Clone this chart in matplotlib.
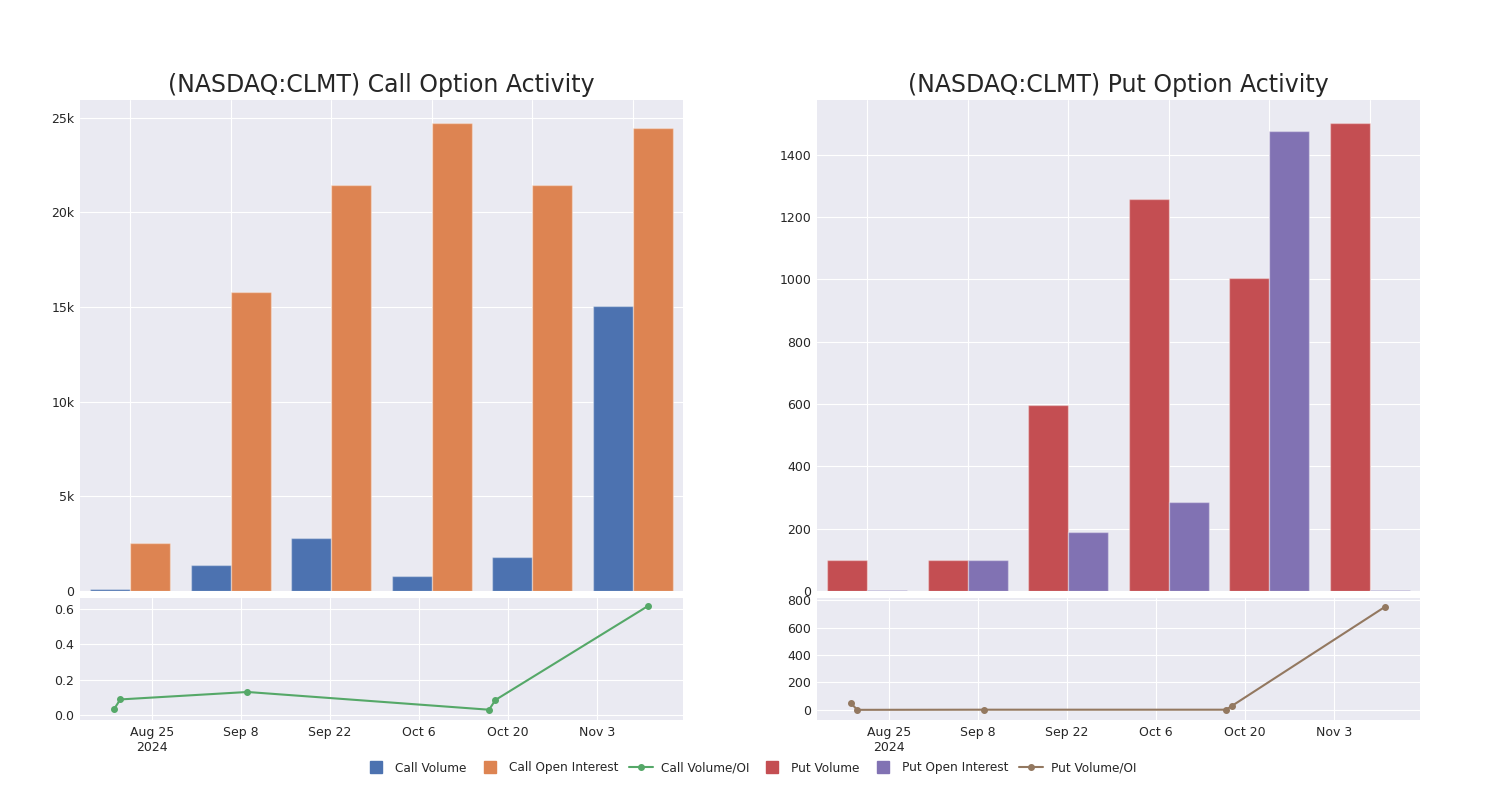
import matplotlib
matplotlib.use("Agg")
import matplotlib.pyplot as plt
from matplotlib.lines import Line2D
from matplotlib.ticker import FuncFormatter
import numpy as np
import pandas as pd
import seaborn as sns

# datos
categorias = np.arange(6)
call_volume = [80, 1350, 2780, 780, 1800, 15050]
call_oi = [2520, 15780, 21420, 24700, 21420, 24480]
put_volume = [98, 98, 598, 1258, 1003, 1500]
put_oi = [2, 100, 188, 286, 1476, 2]

fechas_ratio = pd.to_datetime(["2024-08-19", "2024-08-20", "2024-09-09",
                               "2024-10-17", "2024-10-18", "2024-11-11"])
call_ratio = [0.032, 0.088, 0.130, 0.030, 0.085, 0.615]
put_ratio = [49, 1, 2, 2, 32, 751]

fechas_ticks = pd.to_datetime(["2024-08-25", "2024-09-08", "2024-09-22",
                               "2024-10-06", "2024-10-20", "2024-11-03"])
etiquetas_ticks = ["Aug 25\n2024", "Sep 8", "Sep 22", "Oct 6", "Oct 20", "Nov 3"]

sns.set_style("darkgrid")
plt.rcParams['font.family'] = ['DejaVu Sans']
pal = sns.color_palette("deep")
azul, naranja, verde, rojo, morado, marron = pal[0], pal[1], pal[2], pal[3], pal[4], pal[5]

fig = plt.figure(figsize=(15, 8), dpi=100)
W, H = 1500, 800


def eje(x0, y0, x1, y1):
    return fig.add_axes([x0 / W, 1 - y1 / H, (x1 - x0) / W, (y1 - y0) / H])


ax_call = eje(80, 100, 683, 591)
ax_put = eje(817, 100, 1420, 591)
ax_call_r = eje(80, 598, 683, 720)
ax_put_r = eje(817, 598, 1420, 720)

ancho = 0.4
borde = (1, 1, 1, 0.35)
ax_call.bar(categorias - ancho / 2, call_volume, ancho, color=azul, edgecolor=borde, linewidth=1)
ax_call.bar(categorias + ancho / 2, call_oi, ancho, color=naranja, edgecolor=borde, linewidth=1)
ax_put.bar(categorias - ancho / 2, put_volume, ancho, color=rojo, edgecolor=borde, linewidth=1)
ax_put.bar(categorias + ancho / 2, put_oi, ancho, color=morado, edgecolor=borde, linewidth=1)

for ax in (ax_call, ax_put):
    ax.set_xlim(-0.5, 5.5)
    ax.set_xticks(categorias)
    ax.set_xticklabels([])
ax_call.yaxis.set_major_formatter(FuncFormatter(lambda v, p: f"{v / 1000:g}k" if v else "0"))
ax_call.set_title("(NASDAQ:CLMT) Call Option Activity", fontsize=17, color="#262626", pad=6)
ax_put.set_title("(NASDAQ:CLMT) Put Option Activity", fontsize=17, color="#262626", pad=6)

ax_call_r.plot(fechas_ratio, call_ratio, color=verde, marker="o", markersize=4, linewidth=1.5)
ax_put_r.plot(fechas_ratio, put_ratio, color=marron, marker="o", markersize=4, linewidth=1.5)
ax_call_r.set_ylim(-0.028, 0.66)
ax_call_r.set_yticks([0, 0.2, 0.4, 0.6])
ax_put_r.set_ylim(-73, 815)
ax_put_r.set_yticks([0, 200, 400, 600, 800])

for ax in (ax_call_r, ax_put_r):
    ax.set_xlim(pd.Timestamp("2024-08-13 16:00"), pd.Timestamp("2024-11-16 12:00"))
    ax.set_xticks(fechas_ticks)
    ax.set_xticklabels(etiquetas_ticks)

for ax in (ax_call, ax_put, ax_call_r, ax_put_r):
    ax.tick_params(labelsize=9, colors="#262626", length=0, pad=4)
    for s in ax.spines.values():
        s.set_visible(False)

handles = [
    Line2D([], [], marker="s", linestyle="none", color=azul, markersize=8),
    Line2D([], [], marker="s", linestyle="none", color=naranja, markersize=8),
    Line2D([], [], marker="o", color=verde, markersize=4, linewidth=1.5),
    Line2D([], [], marker="s", linestyle="none", color=rojo, markersize=8),
    Line2D([], [], marker="s", linestyle="none", color=morado, markersize=8),
    Line2D([], [], marker="o", color=marron, markersize=4, linewidth=1.5),
]
nombres = ["Call Volume", "Call Open Interest", "Call Volume/OI",
           "Put Volume", "Put Open Interest", "Put Volume/OI"]
fig.legend(handles, nombres, loc="center", bbox_to_anchor=(0.5, 1 - 768 / H), ncol=6,
           frameon=False, fontsize=8.7, handlelength=2, handletextpad=0.6, columnspacing=0.9)

fig.savefig("out.png", dpi=100)
